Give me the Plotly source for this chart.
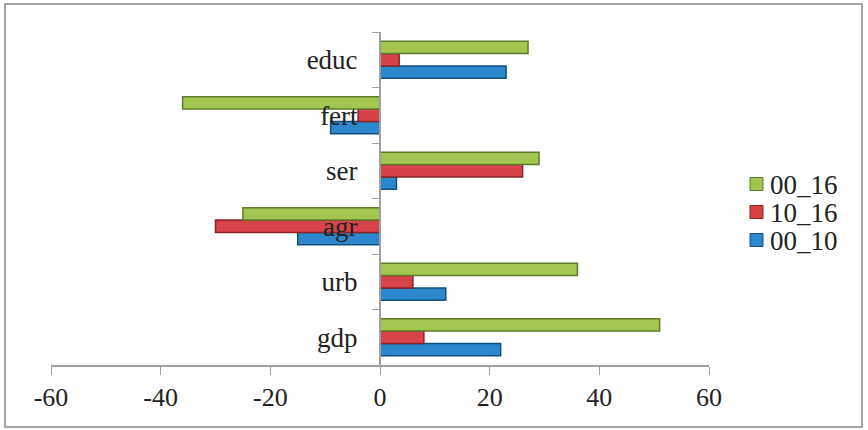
import plotly.graph_objects as go

categories = ["gdp", "urb", "agr", "ser", "fert", "educ"]
s_00_10 = [22, 12, -15, 3, -9, 23]
s_10_16 = [8, 6, -30, 26, -4, 3.5]
s_00_16 = [51, 36, -25, 29, -36, 27]
x_ticks = [-60, -40, -20, 0, 20, 40, 60]
x_tick_labels = ["-60", "-40", "-20", "0", "20", "40", "60"]

FONT = "Liberation Serif"
series = [
    ("00_10", s_00_10, "#2C87CC", "#10507F"),
    ("10_16", s_10_16, "#D8434A", "#8C2326"),
    ("00_16", s_00_16, "#A3C650", "#5E7A2A"),
]

# plot area in pixels (for paper-coordinate conversion of decorations)
L, R, T, B = 51, 709, 32, 365
def px(x):
    return (x - L) / (R - L)
def py(y):
    return (B - y) / (B - T)

fig = go.Figure()
for name, vals, col, edge in series:
    fig.add_trace(go.Bar(y=categories, x=vals, orientation="h", name=name,
                         marker=dict(color=col, line=dict(color=edge, width=1.5))))

shapes = [dict(type="rect", xref="paper", yref="paper",
               x0=px(5), x1=px(862), y0=py(427), y1=py(4),
               line=dict(color="#8A8A8A", width=1.5), fillcolor="rgba(0,0,0,0)", layer="below")]
annotations = []
# manual legend (top to bottom: 00_16, 10_16, 00_10)
for i, (name, vals, col, edge) in enumerate(reversed(series)):
    cy = 184 + i * 28
    shapes.append(dict(type="rect", xref="paper", yref="paper",
                       x0=px(750), x1=px(763), y0=py(cy + 6.5), y1=py(cy - 6.5),
                       fillcolor=col, line=dict(color=edge, width=1)))
    annotations.append(dict(xref="paper", yref="paper", x=px(768), y=py(cy + 1),
                            text=name, showarrow=False, xanchor="left", yanchor="middle",
                            font=dict(family=FONT, size=27, color="#222222")))

fig.update_layout(
    width=868, height=430,
    margin=dict(l=L, r=868 - R, t=T, b=430 - B, autoexpand=False),
    paper_bgcolor="white", plot_bgcolor="white",
    barmode="group", bargap=0.33, bargroupgap=0,
    font=dict(family=FONT, size=26, color="#222222"),
    showlegend=False,
    xaxis=dict(range=[-60, 60], tickvals=x_ticks, ticktext=x_tick_labels,
               ticks="outside", ticklen=8, automargin=False,
               tickfont=dict(family=FONT, size=26),
               tickcolor="#A0A0A0", showline=True, linecolor="#A0A0A0", linewidth=2,
               showgrid=False, zeroline=False, fixedrange=True),
    yaxis=dict(anchor="free", position=0.5, categoryorder="array", categoryarray=categories,
               ticks="outside", ticklen=7, tickson="boundaries", tickcolor="#A0A0A0",
               tickfont=dict(family=FONT, size=27), automargin=False,
               showline=True, linecolor="#A0A0A0", linewidth=2, showgrid=False,
               zeroline=False, ticklabelstandoff=16),
    shapes=shapes,
    annotations=annotations,
)

fig.write_html("out.html", config={"displayModeBar": False},
               post_script="document.body.style.margin='0';document.body.style.padding='0';")
